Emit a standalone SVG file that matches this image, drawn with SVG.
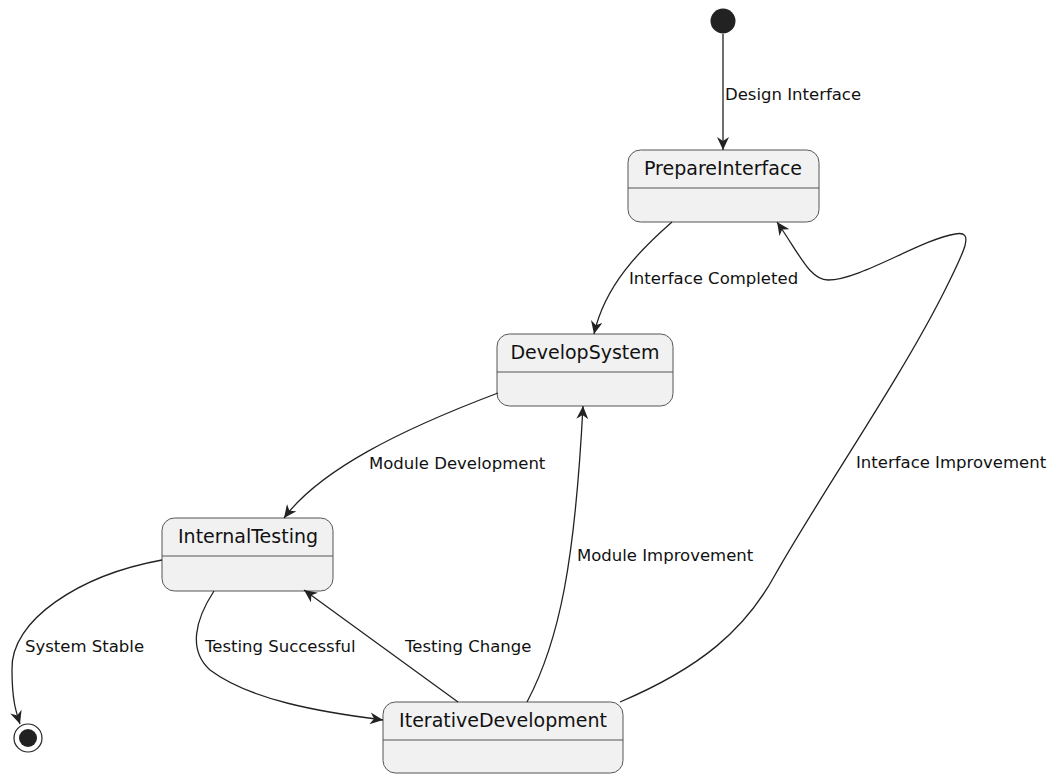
<svg xmlns="http://www.w3.org/2000/svg" width="1058" height="774" viewBox="0 0 1058 774">
<style>
.st rect{fill:#F1F1F1;stroke:#555;stroke-width:1}
.st line{stroke:#555;stroke-width:1}
.st text{font-family:"DejaVu Sans",sans-serif;font-size:19px;fill:#111;text-anchor:middle}
.lbl{font-family:"DejaVu Sans",sans-serif;font-size:16.5px;fill:#111}
.c path{fill:none;stroke:#222;stroke-width:1.3}
</style>
<defs>
<marker id="ah" markerWidth="14" markerHeight="12" refX="13" refY="6" orient="auto" markerUnits="userSpaceOnUse">
<path d="M0,0 L13,6 L0,12 L4,6 Z" fill="#222"/>
</marker>
</defs>
<rect width="1058" height="774" fill="#fff"/>
<g id="start"><circle cx="723" cy="21" r="12.5" fill="#222"/></g>
<g id="end"><circle cx="28" cy="738" r="14" fill="none" stroke="#222" stroke-width="1.2"/><circle cx="28" cy="738" r="9" fill="#222"/></g>
<g id="PrepareInterface" class="st"><rect x="628" y="150" width="191" height="72" rx="12.5"/><line x1="628" y1="188" x2="819" y2="188"/><text x="723" y="175">PrepareInterface</text></g>
<g id="DevelopSystem" class="st"><rect x="497" y="334" width="176" height="72" rx="12.5"/><line x1="497" y1="372" x2="673" y2="372"/><text x="585" y="359">DevelopSystem</text></g>
<g id="InternalTesting" class="st"><rect x="162" y="518" width="171" height="73" rx="12.5"/><line x1="162" y1="556" x2="333" y2="556"/><text x="248" y="543">InternalTesting</text></g>
<g id="IterativeDevelopment" class="st"><rect x="383" y="702" width="240" height="71" rx="12.5"/><line x1="383" y1="740" x2="623" y2="740"/><text x="503" y="727">IterativeDevelopment</text></g>
<g id="connectors" class="c">
<path d="M723,34 L723,150" marker-end="url(#ah)"/>
<path d="M672,222 C640,250 605,285 594,334" marker-end="url(#ah)"/>
<path d="M498,393 C400,430 320,470 284,518" marker-end="url(#ah)"/>
<path d="M162,560 C80,575 10,620 12,670 C12,700 16,712 20,724" marker-end="url(#ah)"/>
<path d="M214,591 C195,620 188,650 210,670 C250,700 320,712 383,720" marker-end="url(#ah)"/>
<path d="M458,702 L304,590" marker-end="url(#ah)"/>
<path d="M527,702 C560,640 575,560 583,406" marker-end="url(#ah)"/>
<path d="M620,702 C700,668 745,630 775,575 C820,495 900,380 945,290 C965,250 975,230 955,234 C920,240 860,280 828,280 C810,280 800,255 777,222" marker-end="url(#ah)"/>
</g>
<g id="labels">
<text class="lbl" x="725" y="100">Design Interface</text>
<text class="lbl" x="629" y="284">Interface Completed</text>
<text class="lbl" x="369" y="469">Module Development</text>
<text class="lbl" x="856" y="468">Interface Improvement</text>
<text class="lbl" x="577" y="561">Module Improvement</text>
<text class="lbl" x="25" y="652">System Stable</text>
<text class="lbl" x="205" y="652">Testing Successful</text>
<text class="lbl" x="405" y="652">Testing Change</text>
</g>
</svg>
